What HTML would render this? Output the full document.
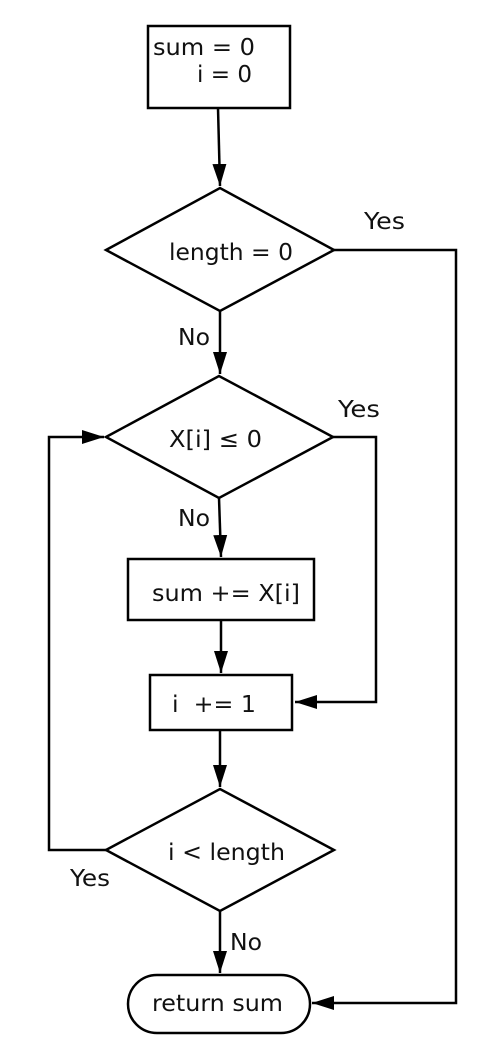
<!DOCTYPE html>
<html><head><meta charset="utf-8"><style>
html,body{margin:0;padding:0;background:#fff;}
svg{display:block;}
text{font-family:"DejaVu Sans","Liberation Sans",sans-serif;font-size:23px;fill:#111;}
.s{fill:none;stroke:#000;stroke-width:2.5;}
.b{fill:#fff;stroke:#000;stroke-width:2.5;}
</style></head><body>
<svg width="495" height="1049" viewBox="0 0 495 1049">
<defs><marker id="ar" markerWidth="22" markerHeight="18" refX="22" refY="9" orient="auto" markerUnits="userSpaceOnUse"><path d="M0,2 L22,9 L0,16 Z" fill="#000"/></marker></defs>
<g>
<path class="s" d="M218,108 L220,186" marker-end="url(#ar)"/>
<path class="s" d="M334,250 L456,250 L456,1003 L312,1003" marker-end="url(#ar)"/>
<path class="s" d="M220,311 L220,374" marker-end="url(#ar)"/>
<path class="s" d="M333,437 L376,437 L376,702 L295,702" marker-end="url(#ar)"/>
<path class="s" d="M219,498 L221,557" marker-end="url(#ar)"/>
<path class="s" d="M221,620 L221,673" marker-end="url(#ar)"/>
<path class="s" d="M220,730 L220,787" marker-end="url(#ar)"/>
<path class="s" d="M106,850 L49,850 L49,437 L104,437" marker-end="url(#ar)"/>
<path class="s" d="M220,911 L220,973" marker-end="url(#ar)"/>
</g>
<g><rect class="b" x="148" y="26" width="142" height="82"/><text x="153" y="55" textLength="102" lengthAdjust="spacingAndGlyphs">sum = 0</text><text x="197" y="82" textLength="55" lengthAdjust="spacingAndGlyphs">i = 0</text></g>
<g><polygon class="b" points="106,250 220,188 334,250 220,311"/><text x="169" y="260" textLength="124" lengthAdjust="spacingAndGlyphs">length = 0</text></g>
<g><polygon class="b" points="106,437 219,376 333,437 219,498"/><text x="169" y="447" textLength="93" lengthAdjust="spacingAndGlyphs">X[i] ≤ 0</text></g>
<g><rect class="b" x="128" y="559" width="186" height="61"/><text x="152" y="601" textLength="148" lengthAdjust="spacingAndGlyphs">sum += X[i]</text></g>
<g><rect class="b" x="150" y="675" width="142" height="55"/><text x="172" y="712" textLength="84" lengthAdjust="spacingAndGlyphs" xml:space="preserve">i  += 1</text></g>
<g><polygon class="b" points="106,850 220,789 334,850 220,911"/><text x="168" y="860" textLength="117" lengthAdjust="spacingAndGlyphs">i &lt; length</text></g>
<g><rect class="b" x="128" y="975" width="182" height="58" rx="29"/><text x="152" y="1011" textLength="131" lengthAdjust="spacingAndGlyphs">return sum</text></g>
<text x="364" y="229" textLength="41" lengthAdjust="spacingAndGlyphs">Yes</text>
<text x="178" y="345" textLength="32" lengthAdjust="spacingAndGlyphs">No</text>
<text x="338" y="417" textLength="42" lengthAdjust="spacingAndGlyphs">Yes</text>
<text x="178" y="526" textLength="32" lengthAdjust="spacingAndGlyphs">No</text>
<text x="70" y="886" textLength="40" lengthAdjust="spacingAndGlyphs">Yes</text>
<text x="230" y="950" textLength="32" lengthAdjust="spacingAndGlyphs">No</text>
</svg>
</body></html>
